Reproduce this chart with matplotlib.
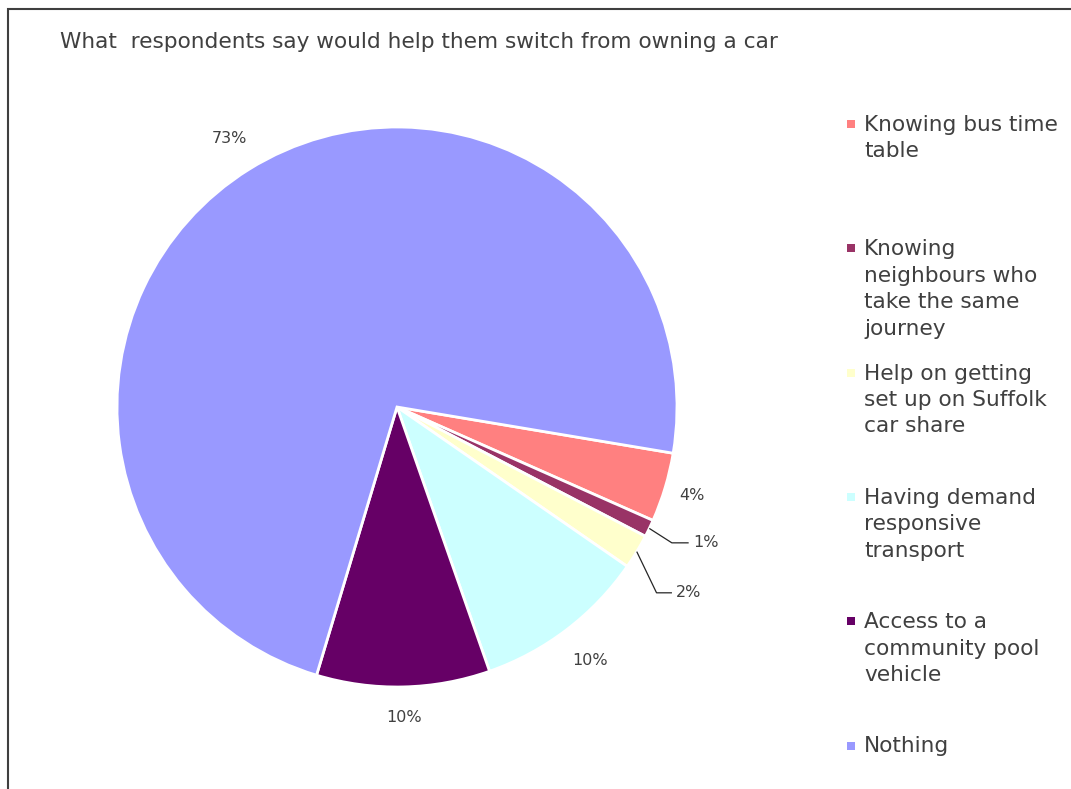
import numpy as np
import matplotlib
matplotlib.use("Agg")
import matplotlib.pyplot as plt
from matplotlib.patches import Rectangle

TITLE = "What  respondents say would help them switch from owning a car"

LABELS = [
    "Knowing bus time\ntable",
    "Knowing\nneighbours who\ntake the same\njourney",
    "Help on getting\nset up on Suffolk\ncar share",
    "Having demand\nresponsive\ntransport",
    "Access to a\ncommunity pool\nvehicle",
    "Nothing",
]
VALUES = [4, 1, 2, 10, 10, 73]
COLORS = ["#FF8080", "#993366", "#FFFFCC", "#CCFFFF", "#660066", "#9999FF"]

TEXT_COLOR = "#404040"
FONT = "DejaVu Sans"

W, H = 1071, 789
fig = plt.figure(figsize=(W / 100, H / 100), dpi=100)
fig.patch.set_facecolor("white")

# outer chart frame (runs off the right/bottom edge)
fig.patches.append(Rectangle((8 / W, -0.05), 1.2, 1 - 9 / H + 0.05,
                             transform=fig.transFigure, fill=False,
                             edgecolor="#3f3f3f", linewidth=1.5))

fig.text(60 / W, 1 - 42 / H, TITLE, fontsize=15.6, color=TEXT_COLOR,
         family=FONT, va="center", ha="left")

# pie axes: centre at (397, 407) px, radius 280 px
R_PX = 280
HALF = 300
cx, cy = 397, 407
ax = fig.add_axes([(cx - HALF) / W, (H - cy - HALF) / H, 2 * HALF / W, 2 * HALF / H])

START = -9.5
wedges, _ = ax.pie(VALUES, colors=COLORS, startangle=START, counterclock=False,
                   radius=1.0, wedgeprops=dict(edgecolor="white", linewidth=2))

# pie() resets the limits, so fix them afterwards
lim = HALF / R_PX
ax.set_xlim(-lim, lim)
ax.set_ylim(-lim, lim)
ax.set_aspect("equal")
ax.axis("off")

# data labels
label_r = [1.10, None, None, 1.14, 1.11, 1.13]
for i, (w, v) in enumerate(zip(wedges, VALUES)):
    mid = np.deg2rad((w.theta1 + w.theta2) / 2)
    if label_r[i] is not None:
        r = label_r[i]
        ax.text(r * np.cos(mid), r * np.sin(mid), f"{v}%", fontsize=11.5,
                color=TEXT_COLOR, family=FONT, ha="center", va="center")

# leader lines for the two thin slices
leaders = {1: (1.095, -26.3, 0.06), 2: (1.14, -35.6, 0.055)}
for i, (r_elbow, ang_elbow, run) in leaders.items():
    w = wedges[i]
    mid = np.deg2rad((w.theta1 + w.theta2) / 2)
    x0, y0 = np.cos(mid), np.sin(mid)
    a = np.deg2rad(ang_elbow)
    x1, y1 = r_elbow * np.cos(a), r_elbow * np.sin(a)
    x2 = x1 + run
    ax.plot([x0, x1, x2], [y0, y1, y1], color="#262626", linewidth=0.9,
            solid_capstyle="butt")
    ax.text(x2 + 0.015, y1, f"{VALUES[i]}%", fontsize=11.5, color=TEXT_COLOR,
            family=FONT, ha="left", va="center")

# legend drawn as squares + text, evenly spaced
leg_x_sq = 851
leg_x_txt = 864
leg_y0 = 124
leg_step = 124.3
for i, (lab, col) in enumerate(zip(LABELS, COLORS)):
    y = leg_y0 + i * leg_step
    fig.patches.append(Rectangle(((leg_x_sq - 4) / W, 1 - (y + 4) / H), 8 / W, 8 / H,
                                 transform=fig.transFigure, facecolor=col,
                                 edgecolor="none"))
    fig.text(leg_x_txt / W, 1 - (y - 9) / H, lab, fontsize=15.6, color=TEXT_COLOR,
             family=FONT, ha="left", va="top", linespacing=1.4)

fig.savefig("out.png", dpi=100)
